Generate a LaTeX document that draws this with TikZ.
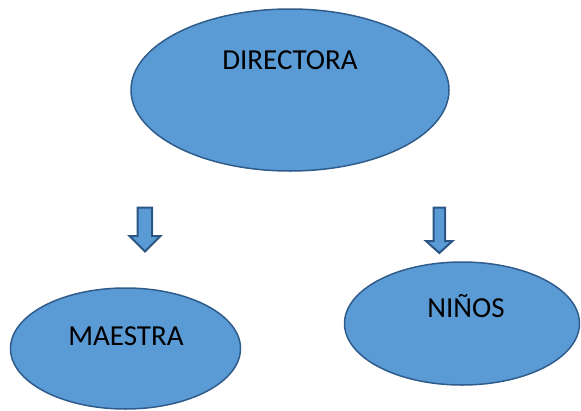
\documentclass[tikz,border=0pt]{standalone}
\usepackage{fontspec}
\setmainfont{Carlito}
\usetikzlibrary{shapes.geometric}
\definecolor{fillblue}{HTML}{5B9BD5}
\definecolor{edgeblue}{HTML}{2F5C8A}
\definecolor{arrowedge}{HTML}{2B5584}
\tikzset{
  blob/.style={ellipse, draw=edgeblue, fill=fillblue, line width=1.5pt, inner sep=0pt},
  lab/.style={anchor=base, inner sep=0pt, font=\fontsize{29}{34}\selectfont, text=black},
  blockarrow/.style={draw=arrowedge, fill=fillblue, line width=2pt, line join=miter}
}
\begin{document}
\begin{tikzpicture}[x=1pt,y=-1pt]
\useasboundingbox (0,0) rectangle (581,410);
\node[blob, minimum width=318pt, minimum height=162pt] (dir) at (290,90) {};
\node[lab] (dirtxt) at (290,69.3) {DIRECTORA};
\node[blob, minimum width=230pt, minimum height=121pt] (mae) at (125.5,348.5) {};
\node[lab] (maetxt) at (126,345) {MAESTRA};
\node[blob, minimum width=235pt, minimum height=123pt] (nin) at (462,323.5) {};
\node[lab] (nintxt) at (466,317.5) {NIÑOS};
\draw[blockarrow] (137.5,207.5) -- (152,207.5) -- (152,236) -- (160.5,236) -- (145,251.5) -- (129.5,236) -- (137.5,236) -- cycle;
\draw[blockarrow] (433.5,207.5) -- (445,207.5) -- (445,241) -- (452.5,241) -- (439.3,253) -- (426,241) -- (433.5,241) -- cycle;
\end{tikzpicture}
\end{document}
